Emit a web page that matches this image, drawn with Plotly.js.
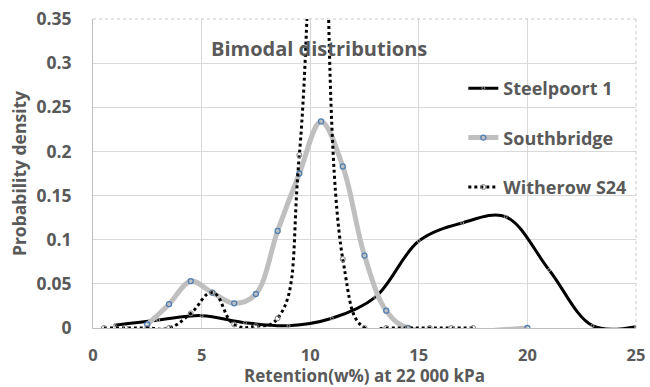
<!DOCTYPE html>
<html>
<head>
<meta charset="utf-8">
<script src="https://cdn.plot.ly/plotly-3.0.1.min.js"></script>
<style>html,body{margin:0;padding:0;background:#fff;}#chart{width:650px;height:387px;}</style>
</head>
<body>
<div id="chart"></div>
<script>
// Data
const steelX = [1, 3, 5, 7, 9, 11, 13, 15, 17, 19, 21, 23, 25];
const steelY = [0.003, 0.009, 0.014, 0.006, 0.0026, 0.011, 0.035, 0.0985, 0.119, 0.126, 0.0657, 0.0026, 0.0015];

const southX = [2.5, 3.5, 4.5, 5.5, 6.5, 7.5, 8.5, 9.5, 10.5, 11.5, 12.5, 13.5, 14.5, 20];
const southY = [0.004, 0.027, 0.053, 0.040, 0.028, 0.0385, 0.11, 0.175, 0.234, 0.183, 0.082, 0.0196, 0, 0];

const witherX = [0.5, 1.5, 2.5, 3.5, 4.5, 5.5, 6.5, 7.5, 8.5, 9.5, 10.5, 11.5, 12.5, 13.5, 14.5, 15.5, 16.5, 17.5];
const witherY = [0, 0, 0, 0, 0.0166, 0.040, 0.004, 0.002, 0.011, 0.196, 0.8, 0.078, 0, 0, 0, 0, 0, 0];

const seriesNames = ["Steelpoort 1", "Southbridge", "Witherow S24"];
const xTicks = [0, 5, 10, 15, 20, 25];
const yTicks = [0, 0.05, 0.1, 0.15, 0.2, 0.25, 0.3, 0.35];

const FONT = "'Open Sans', Lato, sans-serif";
const TXT = "#595959";

const traces = [
  {
    x: steelX, y: steelY, name: seriesNames[0], type: "scatter", mode: "lines+markers",
    line: {color: "#000000", width: 3, shape: "spline", smoothing: 1},
    marker: {symbol: "circle-open", size: 3, color: "#9a9a9a", line: {width: 1, color: "#9a9a9a"}},
    legendgroup: "a", cliponaxis: true
  },
  {
    x: southX, y: southY, name: seriesNames[1], type: "scatter", mode: "lines+markers",
    line: {color: "#bfbfbf", width: 5, shape: "spline", smoothing: 1},
    marker: {symbol: "circle-open", size: 5, color: "#4f7fb5", line: {width: 1.3, color: "#4f7fb5"}},
    legendgroup: "b", cliponaxis: true
  },
  {
    x: witherX, y: witherY, name: seriesNames[2], type: "scatter", mode: "lines+markers",
    line: {color: "#000000", width: 3, dash: "dot", shape: "spline", smoothing: 1.3},
    marker: {symbol: "circle-open", size: 5, color: "#808080", line: {width: 1, color: "#808080"}},
    legendgroup: "c", cliponaxis: true
  }
];

const layout = {
  width: 650, height: 387,
  margin: {l: 93, r: 14, t: 19, b: 59},
  paper_bgcolor: "#ffffff", plot_bgcolor: "#ffffff",
  font: {family: FONT, color: TXT, size: 15},
  showlegend: true,
  legend: {
    x: 0.682, y: 0.835, xanchor: "left", yanchor: "top",
    traceorder: "grouped", tracegroupgap: 23,
    font: {family: FONT, size: 18, color: TXT, weight: "bold"},
    bgcolor: "rgba(255,255,255,0)"
  },
  xaxis: {
    range: [0, 25], tickvals: xTicks, ticktext: xTicks.map(String),
    showgrid: true, gridcolor: "#d9d9d9", gridwidth: 1,
    zeroline: false, showline: true, linecolor: "#bfbfbf", linewidth: 1,
    ticks: "", ticklabelstandoff: 12,
    tickfont: {family: FONT, size: 16.5, color: TXT, weight: "bold"},
    title: {text: "Retention(w%) at 22 000 kPa", font: {family: FONT, size: 17, color: TXT, weight: "bold"}, standoff: 6}
  },
  yaxis: {
    range: [0, 0.35], tickvals: yTicks, ticktext: yTicks.map(String),
    showgrid: true, gridcolor: "#d9d9d9", gridwidth: 1,
    zeroline: false, showline: true, linecolor: "#bfbfbf", linewidth: 1,
    ticks: "", ticklabelstandoff: 17,
    tickfont: {family: FONT, size: 17.5, color: TXT, weight: "bold"},
    title: {text: "Probability density", font: {family: FONT, size: 17.5, color: TXT, weight: "bold"}, standoff: 5}
  },
  shapes: [
    {type: "line", xref: "paper", yref: "paper", x0: 0, x1: 1, y0: 1, y1: 1, line: {color: "#c8c8c8", width: 1, dash: "dot"}},
    {type: "line", xref: "paper", yref: "paper", x0: 1, x1: 1, y0: 0, y1: 1, line: {color: "#c8c8c8", width: 1, dash: "dot"}}
  ],
  annotations: [
    {text: "Bimodal distributions", xref: "paper", yref: "paper", x: 0.416, y: 0.905,
     xanchor: "center", yanchor: "middle", showarrow: false,
     font: {family: FONT, size: 20, color: TXT, weight: "bold"}}
  ]
};

Plotly.newPlot("chart", traces, layout, {displayModeBar: false, staticPlot: true});
</script>
</body>
</html>
